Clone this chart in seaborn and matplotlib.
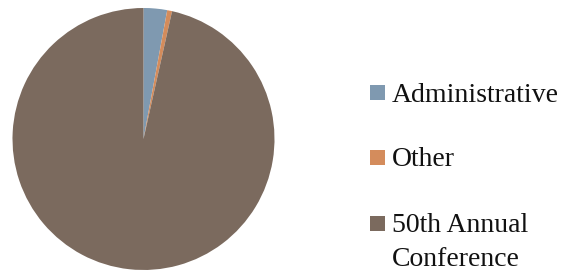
import matplotlib
matplotlib.use("Agg")
import matplotlib.pyplot as plt
from matplotlib.patches import Rectangle
import seaborn as sns

categories = ["Administrative", "Other", "50th Annual\nConference"]
values = [2.9, 0.6, 96.5]
colors = ["#7F99B0", "#D48C5C", "#7B6A5E"]

sns.set_theme(style="white")
plt.rcParams["font.family"] = ["Liberation Serif", "DejaVu Serif"]

W, H = 564, 270
fig = plt.figure(figsize=(W / 100, H / 100), dpi=100)
fig.patch.set_facecolor("white")

cx, cy, r = 143.5, 139, 131
ax = fig.add_axes([(cx - r) / W, (H - cy - r) / H, 2 * r / W, 2 * r / H])
ax.pie(values, colors=sns.color_palette(colors), startangle=90, counterclock=False,
       radius=1, wedgeprops=dict(linewidth=0))
ax.set_xlim(-1, 1)
ax.set_ylim(-1, 1)
ax.set_aspect("equal")
ax.axis("off")

rows_y = [92, 157, 223]
line_step = 33
sq = 15
for lab, col, y in zip(categories, colors, rows_y):
    fig.patches.append(Rectangle((370 / W, (H - y - sq / 2) / H), sq / W, sq / H,
                                 transform=fig.transFigure, facecolor=col, edgecolor="none"))
    for i, line in enumerate(lab.split("\n")):
        fig.text(392 / W, (H - y - i * line_step) / H, line, fontsize=20,
                 va="center_baseline", ha="left", color="#111111")

fig.savefig("out.png", dpi=100)
